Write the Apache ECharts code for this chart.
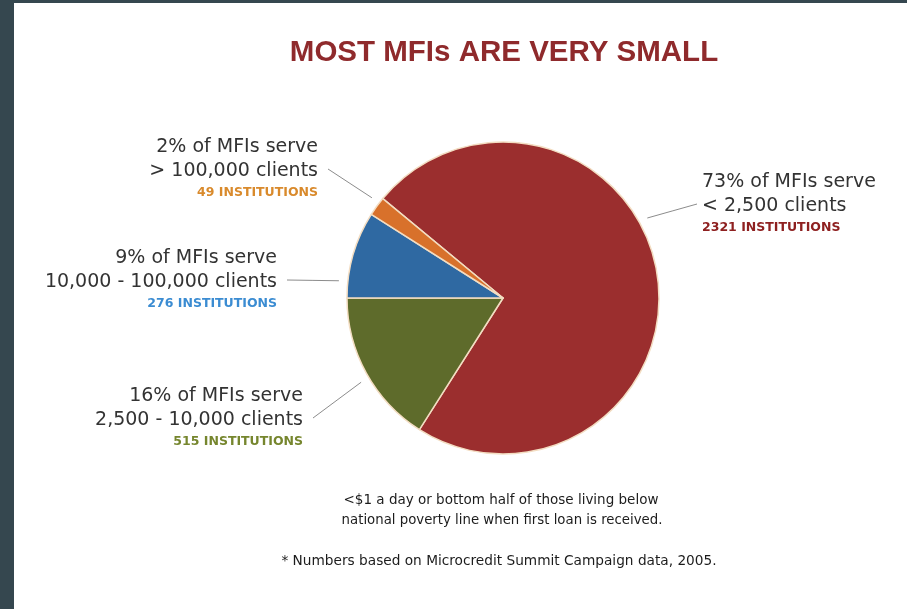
<!DOCTYPE html>
<html>
<head>
<meta charset="utf-8">
<script src="https://cdn.jsdelivr.net/npm/echarts@6/dist/echarts.min.js"></script>
<style>
  html, body { margin: 0; padding: 0; background: #ffffff; }
  #chart { width: 907px; height: 609px; }
</style>
</head>
<body>
<div id="chart"></div>
<script>
// Client-size groups, their share of MFIs (%) and institution counts
const clientRanges = ['< 2,500', '2,500 - 10,000', '10,000 - 100,000', '> 100,000'];
const sharePct = [73, 16, 9, 2];
const institutions = [2321, 515, 276, 49];

// Slice and label colours, in the same order
const sliceColors = ['#9b2e2e', '#5e6b2b', '#2f69a2', '#d8712b'];
const countColors = ['#8e2020', '#76862e', '#3b8cd2', '#d98a2c'];

// Pie geometry and label placement (pixels)
const CENTER = [503, 298];
const RADIUS = 156;
const LEADER_R = 165;
const labelSpots = [
  { x: 702, y: 204, align: 'left',  leaderAngle: 29 },
  { x: 303, y: 418, align: 'right', leaderAngle: 210.7 },
  { x: 277, y: 280, align: 'right', leaderAngle: 174 },
  { x: 318, y: 169, align: 'right', leaderAngle: 142.6 }
];

const FONT = '"DejaVu Sans", "Open Sans", sans-serif';

const richStyles = {
  a: { fontFamily: FONT, fontSize: 19, lineHeight: 24, color: '#333333' }
};
countColors.forEach(function (c, i) {
  richStyles['b' + i] = { fontFamily: FONT, fontSize: 12.5, fontWeight: 'bold', lineHeight: 20, color: c };
});

const pieData = sharePct.map(function (v, i) {
  return { value: v, name: clientRanges[i], itemStyle: { color: sliceColors[i] } };
});

const chart = echarts.init(document.getElementById('chart'), null, { renderer: 'canvas' });

chart.setOption({
  backgroundColor: '#ffffff',
  animation: false,
  graphic: [
    { type: 'rect', left: 0, top: 0, shape: { width: 14, height: 609 }, style: { fill: '#35474f' }, silent: true },
    { type: 'rect', left: 0, top: 0, shape: { width: 907, height: 3 }, style: { fill: '#35474f' }, silent: true },
    {
      type: 'text', x: 504, y: 53,
      style: {
        text: 'MOST MFIs ARE VERY SMALL',
        fill: '#8f2a2c', font: 'bold 29.5px "Liberation Sans", Arial, sans-serif',
        textAlign: 'center', textVerticalAlign: 'middle'
      }
    },
    {
      type: 'text', x: 501, y: 500,
      style: {
        text: '<$1 a day or bottom half of those living below',
        fill: '#1c1c1c', font: '13.5px ' + FONT,
        textAlign: 'center', textVerticalAlign: 'middle'
      }
    },
    {
      type: 'text', x: 502, y: 521,
      style: {
        text: 'national poverty line when first loan is received.',
        fill: '#1c1c1c', font: '13.3px ' + FONT,
        textAlign: 'center', textVerticalAlign: 'middle'
      }
    },
    {
      type: 'text', x: 499, y: 561,
      style: {
        text: '* Numbers based on Microcredit Summit Campaign data, 2005.',
        fill: '#1c1c1c', font: '13.7px ' + FONT,
        textAlign: 'center', textVerticalAlign: 'middle'
      }
    }
  ],
  series: [{
    type: 'pie',
    center: CENTER,
    radius: RADIUS,
    startAngle: 140.4,
    clockwise: true,
    avoidLabelOverlap: false,
    silent: true,
    data: pieData,
    itemStyle: { borderColor: '#f3ddc2', borderWidth: 1.5 },
    label: {
      show: true,
      position: 'outside',
      formatter: function (p) {
        const i = p.dataIndex;
        return '{a|' + sharePct[i] + '% of MFIs serve}\n' +
               '{a|' + clientRanges[i] + ' clients}\n' +
               '{b' + i + '|' + institutions[i] + ' INSTITUTIONS}';
      },
      rich: richStyles
    },
    labelLine: { show: true, length: 10, length2: 10, lineStyle: { color: '#8c8c8c', width: 1 } },
    labelLayout: function (params) {
      const s = labelSpots[params.dataIndex];
      const a = s.leaderAngle * Math.PI / 180;
      const start = [CENTER[0] + LEADER_R * Math.cos(a), CENTER[1] - LEADER_R * Math.sin(a)];
      const end = [s.align === 'right' ? s.x + 10 : s.x - 5, s.y];
      return {
        x: s.x, y: s.y,
        align: s.align, verticalAlign: 'middle',
        labelLinePoints: [start, [(start[0] + end[0]) / 2, (start[1] + end[1]) / 2], end]
      };
    }
  }]
});
</script>
</body>
</html>
